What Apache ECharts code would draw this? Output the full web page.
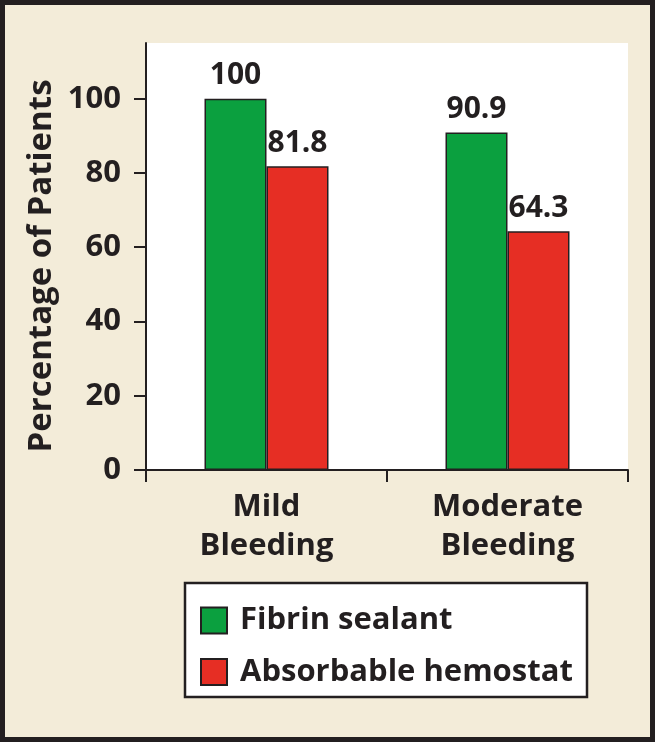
<!DOCTYPE html>
<html>
<head>
<meta charset="utf-8">
<script src="https://cdn.jsdelivr.net/npm/echarts@6/dist/echarts.min.js"></script>
<style>
html,body{margin:0;padding:0;background:#f3ecd9;}
#c{width:655px;height:742px;}
</style>
</head>
<body>
<div id="c"></div>
<script>
const categories = ['Mild\nBleeding', 'Moderate\nBleeding'];
const fibrinSealant = [100, 90.9];
const absorbableHemostat = [81.8, 64.3];
const yTicks = [0, 20, 40, 60, 80, 100];
const seriesNames = ['Fibrin sealant', 'Absorbable hemostat'];

const TXT = '#231f20';
const FONT = '"Open Sans", "DejaVu Sans", sans-serif';
const chart = echarts.init(document.getElementById('c'), null, {renderer: 'canvas'});

chart.setOption({
  backgroundColor: '#f3ecd9',
  animation: false,
  textStyle: {fontFamily: FONT, color: TXT},
  grid: {left: 146, right: 27, top: 43, bottom: 272, show: true, backgroundColor: '#ffffff', borderWidth: 0, containLabel: false},
  xAxis: {
    type: 'category',
    data: categories,
    axisLine: {lineStyle: {color: TXT, width: 2}},
    axisTick: {show: true, length: 12, lineStyle: {color: TXT, width: 2}},
    axisLabel: {color: TXT, fontFamily: FONT, fontWeight: 'bold', fontSize: 31, lineHeight: 39, margin: 18}
  },
  yAxis: {
    type: 'value',
    min: 0, max: 115, interval: 20,
    axisLine: {show: true, lineStyle: {color: TXT, width: 2}},
    axisTick: {show: true, length: 12, lineStyle: {color: TXT, width: 2}, customValues: yTicks},
    axisLabel: {color: TXT, fontFamily: FONT, fontWeight: 'bold', fontSize: 31, margin: 25, customValues: yTicks},
    splitLine: {show: false}
  },
  legend: {
    orient: 'vertical',
    left: 200, top: 605,
    padding: 0,
    itemWidth: 26, itemHeight: 26, itemGap: 20.5,
    icon: 'rect',
    data: seriesNames,
    textStyle: {color: TXT, fontFamily: FONT, fontWeight: 'bold', fontSize: 31, lineHeight: 26, padding: [0, 0, 0, 8]}
  },
  graphic: [
    {type: 'rect', z: 0, shape: {x: 185, y: 583, width: 402, height: 114}, style: {fill: '#ffffff', stroke: TXT, lineWidth: 2.5}},
    {type: 'rect', z: 100, shape: {x: 2.5, y: 2.5, width: 650, height: 737}, style: {fill: 'none', stroke: TXT, lineWidth: 5}},
    {type: 'text', z: 10, x: 42, y: 266, rotation: Math.PI / 2,
      style: {text: 'Percentage of Patients', fill: TXT, font: 'bold 33px ' + FONT, textAlign: 'center', textVerticalAlign: 'middle'}}
  ],
  series: [
    {
      name: seriesNames[0], type: 'bar', data: fibrinSealant,
      barWidth: 62, barGap: '0%',
      itemStyle: {color: '#0ba03f', borderColor: TXT, borderWidth: 1.5},
      label: {show: true, position: 'top', distance: 8, color: TXT, fontFamily: FONT, fontWeight: 'bold', fontSize: 30}
    },
    {
      name: seriesNames[1], type: 'bar', data: absorbableHemostat,
      barWidth: 62,
      itemStyle: {color: '#e62e24', borderColor: TXT, borderWidth: 1.5},
      label: {show: true, position: 'top', distance: 8, color: TXT, fontFamily: FONT, fontWeight: 'bold', fontSize: 30}
    }
  ]
});
</script>
</body>
</html>
